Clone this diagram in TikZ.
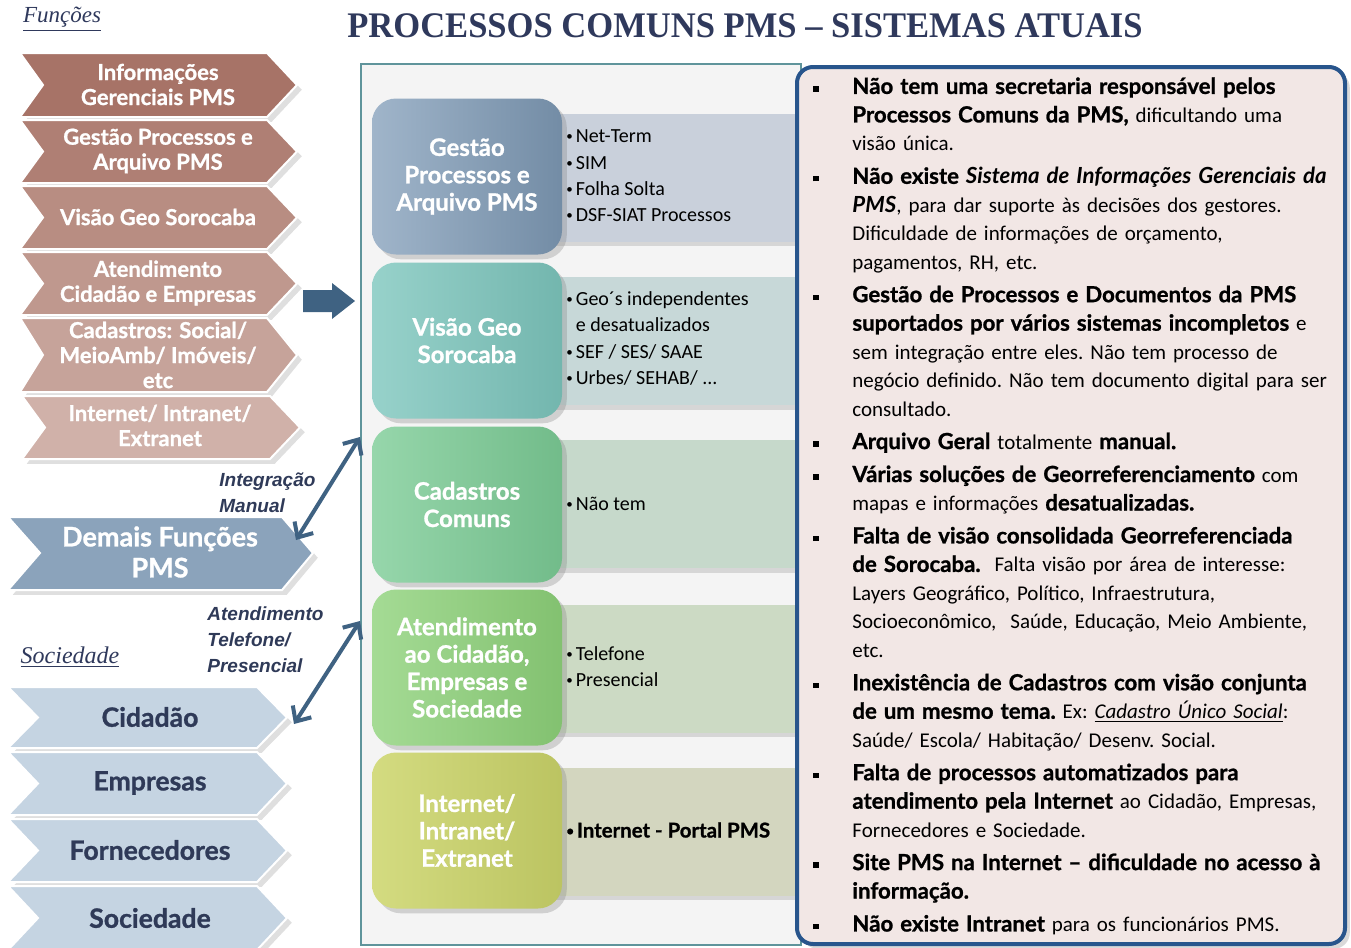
\documentclass[tikz,border=0pt]{standalone}
\usepackage{fontspec}
\setmainfont{Carlito}
\newfontfamily\titlefont{Liberation Serif}
\newfontfamily\labelfont{Liberation Sans}
\newfontfamily\heavyfont{Lato}[BoldFeatures={FakeBold=1}]
\newcommand\hb[1]{{\heavyfont\bfseries\fontsize{11.1}{14.25}\selectfont #1}}
\newcommand\hbi[1]{{\heavyfont\bfseries\itshape\fontsize{11.1}{14.25}\selectfont #1}}
\newcommand\bul{\raisebox{0.2ex}{\fontsize{6.5}{6.5}\selectfont\textbullet}\hspace{1.5pt}}
\usetikzlibrary{arrows.meta,shadows}

\definecolor{fnA}{RGB}{167,115,103}
\definecolor{fnB}{RGB}{175,127,116}
\definecolor{fnC}{RGB}{184,141,130}
\definecolor{fnD}{RGB}{191,152,142}
\definecolor{fnE}{RGB}{198,163,154}
\definecolor{fnF}{RGB}{208,177,169}
\definecolor{demaisBlue}{RGB}{139,163,187}
\definecolor{socFill}{RGB}{197,212,226}
\definecolor{socText}{RGB}{47,58,88}
\definecolor{titleNavy}{RGB}{47,57,92}
\definecolor{arrowBlue}{RGB}{63,98,130}
\definecolor{frameTeal}{RGB}{95,148,155}
\definecolor{frameBg}{RGB}{244,244,244}
\definecolor{panelBlue}{RGB}{40,85,140}
\definecolor{panelFill}{RGB}{242,231,229}
\definecolor{gpBox}{RGB}{128,156,184}
\definecolor{geoBox}{RGB}{125,198,189}
\definecolor{cadBox}{RGB}{124,204,150}
\definecolor{ateBox}{RGB}{142,210,122}
\definecolor{intBox}{RGB}{204,213,106}
\definecolor{gpBand}{RGB}{201,208,219}
\definecolor{geoBand}{RGB}{199,216,216}
\definecolor{cadBand}{RGB}{198,217,203}
\definecolor{ateBand}{RGB}{204,218,196}
\definecolor{intBand}{RGB}{211,214,191}

\begin{document}
\begin{tikzpicture}[x=0.5pt, y=-0.5pt,
	chev/.style={draw=white, line width=1pt, drop shadow={opacity=0.25}},
	fntext/.style={text=white, font=\heavyfont\bfseries\fontsize{11}{12.5}\selectfont, align=center},
	soctext/.style={text=socText, font=\heavyfont\bfseries\fontsize{13.3}{15}\selectfont},
	procbox/.style={rounded corners=12pt, minimum width=95pt, minimum height=78pt, inner sep=0pt, text=white, align=center, font=\heavyfont\bfseries\fontsize{12}{13.7}\selectfont, drop shadow={opacity=0.3}},
	band/.style={minimum width=125pt, minimum height=64pt, anchor=west, inner sep=0pt, drop shadow={opacity=0.25}},
	bandtext/.style={anchor=west, align=left, inner sep=0pt, font=\fontsize{10}{13.15}\selectfont},
	note/.style={anchor=west, align=left, inner sep=0pt, text=socText, font=\labelfont\bfseries\itshape\fontsize{9.5}{13}\selectfont},
	dblarrow/.style={arrowBlue, line width=2pt, {Straight Barb[length=6pt,width=11pt]}-{Straight Barb[length=6pt,width=11pt]}}]
	%\draw[help lines] (0,0) grid[step=50] (1351,948);
	\useasboundingbox (0,0) rectangle (1351,948);
	
	\node[text=titleNavy, font=\titlefont\bfseries\fontsize{18}{20}\selectfont] (title) at (745,26) {\scalebox{0.96}[1]{PROCESSOS COMUNS PMS – SISTEMAS ATUAIS}};
	\node[text=titleNavy, font=\titlefont\itshape\fontsize{11.5}{13}\selectfont] (funchead) at (62,19) {\underline{Funções}};
	\node[text=titleNavy, font=\titlefont\itshape\fontsize{12}{13}\selectfont] (sochead) at (70,657) {\underline{Sociedade}};
	
	% funcoes
	\fill[chev, fill=fnA] (20,53) -- (267,53) -- (297,85) -- (267,117) -- (20,117) -- (43,85) -- cycle;
	\fill[chev, fill=fnB] (20,120) -- (267,120) -- (297,151.5) -- (267,183) -- (20,183) -- (43,151.5) -- cycle;
	\fill[chev, fill=fnC] (20,186) -- (267,186) -- (297,217.5) -- (267,249) -- (20,249) -- (43,217.5) -- cycle;
	\fill[chev, fill=fnD] (20,252) -- (267,252) -- (297,283.5) -- (267,315) -- (20,315) -- (43,283.5) -- cycle;
	\fill[chev, fill=fnE] (20,318) -- (267,318) -- (297,355) -- (267,392) -- (20,392) -- (43,355) -- cycle;
	\fill[chev, fill=fnF] (22,396) -- (270,396) -- (300,427.5) -- (270,459) -- (22,459) -- (45,427.5) -- cycle;
	\node[fntext] (infger) at (158,84.5) {Informações\\Gerenciais PMS};
	\node[fntext] (gestao) at (158,151) {Gestão Processos e\\Arquivo PMS};
	\node[fntext] (visao) at (158,217) {Visão Geo Sorocaba};
	\node[fntext] (atend) at (158,283) {Atendimento\\Cidadão e Empresas};
	\node[fntext] (cadast) at (158,355) {Cadastros: Social/\\MeioAmb/ Imóveis/\\etc};
	\node[fntext] (internet) at (160,425.5) {Internet/ Intranet/\\Extranet};
	
	\fill[arrowBlue] (303,290) -- (332,290) -- (332,283) -- (355,301) -- (332,319) -- (332,312) -- (303,312) -- cycle;
	
	% demais funcoes
	\fill[chev, fill=demaisBlue] (8,517) -- (282,517) -- (313,553) -- (282,590) -- (8,590) -- (40,553) -- cycle;
	\node[text=white, font=\heavyfont\bfseries\fontsize{13.5}{15.5}\selectfont, align=center] (demais) at (160,552) {Demais Funções\\PMS};
	
	% sociedade
	\fill[chev, fill=socFill] (8,687) -- (257,687) -- (287,717.5) -- (257,748) -- (8,748) -- (38,717.5) -- cycle;
	\fill[chev, fill=socFill] (8,752) -- (257,752) -- (287,783.5) -- (257,815) -- (8,815) -- (38,783.5) -- cycle;
	\fill[chev, fill=socFill] (8,819) -- (257,819) -- (287,850.5) -- (257,882) -- (8,882) -- (38,850.5) -- cycle;
	\fill[chev, fill=socFill] (8,886) -- (257,886) -- (287,918) -- (257,950) -- (8,950) -- (38,918) -- cycle;
	\node[soctext] (cidadao) at (150,717) {Cidadão};
	\node[soctext] (empresas) at (150,783) {Empresas};
	\node[soctext] (fornec) at (150,850) {Fornecedores};
	\node[soctext] (socied) at (150,918) {Sociedade};
	
	% processos comuns
	\node[draw=frameTeal, line width=1.2pt, fill=frameBg, minimum width=220pt, minimum height=440.5pt, anchor=north west, inner sep=0pt] (frame) at (360,63) {};
	
	\node[band, fill=gpBand] (gpband) at (550,177.5) {};
	\node[band, fill=geoBand] (geoband) at (550,341) {};
	\node[band, fill=cadBand] (cadband) at (550,504) {};
	\node[band, fill=ateBand] (ateband) at (550,668.5) {};
	\node[band, fill=intBand] (intband) at (550,831.5) {};
	
	\node[procbox, left color=gpBox!75!white, right color=gpBox!90!black] (gp) at (467,176.5) {Gestão\\Processos e\\Arquivo PMS};
	\node[procbox, left color=geoBox!80!white, right color=geoBox!92!black] (geo) at (467,340.5) {Visão Geo\\Sorocaba};
	\node[procbox, left color=cadBox!80!white, right color=cadBox!92!black] (cad) at (467,504.5) {Cadastros\\Comuns};
	\node[procbox, left color=ateBox!80!white, right color=ateBox!92!black] (ate) at (467,667.5) {Atendimento\\ao Cidadão,\\Empresas e\\Sociedade};
	\node[procbox, left color=intBox!85!white, right color=intBox!92!black] (int) at (467,830.5) {Internet/\\Intranet/\\Extranet};
	
	\node[bandtext] (gptext) at (566,176) {\bul Net-Term\\\bul SIM\\\bul Folha Solta\\\bul DSF-SIAT Processos};
	\node[bandtext] (geotext) at (566,338.5) {\bul Geo´s independentes\\\phantom{\bul}e desatualizados\\\bul SEF / SES/ SAAE\\\bul Urbes/ SEHAB/ ...};
	\node[bandtext] (cadtext) at (566,504) {\bul Não tem};
	\node[bandtext] (atetext) at (566,666.5) {\bul Telefone\\\bul Presencial};
	\node[bandtext, font=\heavyfont\bfseries\fontsize{10.2}{13.15}\selectfont] (inttext) at (566,830) {\bul Internet - Portal PMS};
	
	% ligacoes
	\node[note] (integlabel) at (219,493) {Integração\\Manual};
	\node[note] (atendlabel) at (207,640) {Atendimento\\Telefone/\\Presencial};
	\coordinate (integend) at (296,540);
	\coordinate (cidend) at (294,724);
	\draw[dblarrow] (integend) -- (frame.west |- 0,437);
	\draw[dblarrow] (cidend) -- (frame.west |- 0,621);
	
	% problemas
	\node[draw=panelBlue, line width=2pt, fill=panelFill, rounded corners=8pt, minimum width=274pt, minimum height=438.5pt, anchor=north west, inner sep=0pt, drop shadow={opacity=0.3}] (issues) at (795,65) {};
	\node[anchor=north west, text width=280pt, inner sep=0pt, align=left, font=\frenchspacing\fontsize{10.5}{14.25}\selectfont] (issuetext) at (813,65) {%
	\begin{list}{\rule[1.2pt]{2.6pt}{2.6pt}\hfill}{\setlength{\leftmargin}{19.5pt}\setlength{\labelwidth}{19.5pt}\setlength{\labelsep}{0pt}\setlength{\itemsep}{2.2pt}\setlength{\parsep}{0pt}\setlength{\topsep}{0pt}\setlength{\partopsep}{0pt}}
	\item \hb{Não tem uma secretaria responsável pelos}\\\hb{Processos Comuns da PMS,} dificultando uma\\visão única.
	\item \hb{Não existe \hbi{Sistema de Informações Gerenciais da}}\\\hbi{PMS}, para dar suporte às decisões dos gestores.\\Dificuldade de informações de orçamento,\\pagamentos, RH, etc.
	\item \hb{Gestão de Processos e Documentos da PMS}\\\hb{suportados por vários sistemas incompletos} e\\sem integração entre eles. Não tem processo de\\negócio definido. Não tem documento digital para ser\\consultado.
	\item \hb{Arquivo Geral} totalmente \hb{manual.}
	\item \hb{Várias soluções de Georreferenciamento} com\\mapas e informações \hb{desatualizadas.}
	\item \hb{Falta de visão consolidada Georreferenciada}\\\hb{de Sorocaba.}\ \ Falta visão por área de interesse:\\Layers Geográfico, Político, Infraestrutura,\\Socioeconômico,\ \ Saúde, Educação, Meio Ambiente,\\etc.
	\item \hb{Inexistência de Cadastros com visão conjunta}\\\hb{de um mesmo tema.} Ex: \underline{\textit{Cadastro Único Social}}:\\Saúde/ Escola/ Habitação/ Desenv. Social.
	\item \hb{Falta de processos automatizados para}\\\hb{atendimento pela Internet} ao Cidadão, Empresas,\\Fornecedores e Sociedade.
	\item \hb{Site PMS na Internet – dificuldade no acesso à}\\\hb{informação.}
	\item \hb{Não existe Intranet} para os funcionários PMS.
	\end{list}};
\end{tikzpicture}
\end{document}
